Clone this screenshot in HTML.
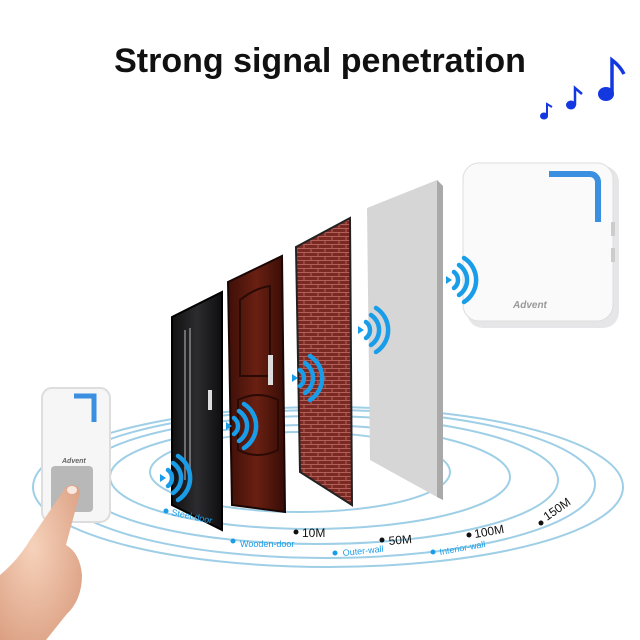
<!DOCTYPE html>
<html><head><meta charset="utf-8"><style>
html,body{margin:0;padding:0;background:#fff;width:640px;height:640px;overflow:hidden}
</style></head><body>
<svg width="640" height="640" viewBox="0 0 640 640" xmlns="http://www.w3.org/2000/svg" font-family="Liberation Sans, sans-serif">
<defs>
<pattern id="brick" width="14" height="8" patternUnits="userSpaceOnUse">
<rect width="14" height="8" fill="#7a2a22"/>
<path d="M0 0.5H14M0 4.5H14M3 0.5V4.5M10 4.5V8" stroke="#b4605a" stroke-width="1"/>
</pattern>
<linearGradient id="wood" x1="0" x2="1"><stop offset="0" stop-color="#3e0f08"/><stop offset="0.5" stop-color="#6a2012"/><stop offset="1" stop-color="#360c06"/></linearGradient>
<linearGradient id="steel" x1="0" x2="1"><stop offset="0" stop-color="#111"/><stop offset="0.5" stop-color="#2c2c30"/><stop offset="1" stop-color="#0e0e10"/></linearGradient>
<radialGradient id="skin" cx="0.4" cy="0.4" r="0.7"><stop offset="0" stop-color="#f6d2bb"/><stop offset="1" stop-color="#dca184"/></radialGradient>
<g id="wave" fill="none" stroke="#1a9de8" stroke-width="4.5" stroke-linecap="round">
<path d="M0 -4 L6 0 L0 4Z" fill="#1a9de8" stroke="none"/>
<path d="M8 -8 A10 10 0 0 1 8 8"/>
<path d="M13 -15 A18 18 0 0 1 13 15"/>
<path d="M18 -22 A26 26 0 0 1 18 22"/>
</g>
</defs>
<text x="320" y="72" text-anchor="middle" font-size="34" font-weight="bold" fill="#111">Strong signal penetration</text>
<!-- notes -->
<g fill="#1438e0">
<ellipse cx="544" cy="116" rx="4" ry="3.5"/><path d="M547 116V104l5 3" stroke="#1438e0" stroke-width="2" fill="none"/>
<ellipse cx="571" cy="105" rx="5" ry="4.5"/><path d="M575 105V88l7 6" stroke="#1438e0" stroke-width="2.5" fill="none"/>
<ellipse cx="606" cy="94" rx="8" ry="7"/><path d="M612 94V60q8 6 12 14" stroke="#1438e0" stroke-width="3.5" fill="none"/>
</g>
<!-- ellipses -->
<g fill="none" stroke="#9fcfe6" stroke-width="2">
<ellipse cx="300" cy="472" rx="150" ry="40"/>
<ellipse cx="310" cy="477" rx="200" ry="52"/>
<ellipse cx="318" cy="480" rx="240" ry="64"/>
<ellipse cx="325" cy="484" rx="270" ry="74"/>
<ellipse cx="328" cy="487" rx="295" ry="80"/>
</g>
<!-- panels -->
<polygon points="367,208 437,180 443,186 443,500 437,497 370,460" fill="#d6d6d6"/>
<polygon points="437,180 443,186 443,500 437,497" fill="#a9a9a9"/>
<polygon points="296,247 350,218 352,505 300,472" fill="url(#brick)" stroke="#222" stroke-width="2"/>
<polygon points="228,282 282,256 285,512 232,505" fill="url(#wood)" stroke="#1a0705" stroke-width="2"/>
<path d="M240 300 q15 -12 30 -14 v90 h-30z M238 400 q20 -10 40 0 v50 q-20 10 -40 0z" fill="none" stroke="#2a0a05" stroke-width="2"/>
<rect x="268" y="355" width="5" height="30" fill="#ddd"/>
<polygon points="172,317 222,292 222,530 172,505" fill="url(#steel)" stroke="#000" stroke-width="2"/>
<path d="M185 330V480M190 328V482" stroke="#888" stroke-width="1.5"/>
<rect x="208" y="390" width="4" height="20" fill="#ddd"/>
<!-- receiver -->
<rect x="467" y="166" width="152" height="162" rx="16" fill="#e6e6e8"/>
<rect x="463" y="163" width="150" height="158" rx="16" fill="#fafafa" stroke="#ddd"/>
<path d="M549 174H590a8 8 0 0 1 8 8V222" fill="none" stroke="#3a8fe0" stroke-width="6"/>
<rect x="611" y="222" width="4" height="14" fill="#ccc"/><rect x="611" y="248" width="4" height="14" fill="#ccc"/>
<text x="513" y="308" font-size="10" font-weight="bold" fill="#999" font-style="italic">Advent</text>
<!-- waves -->
<use href="#wave" x="160" y="478"/>
<use href="#wave" x="226" y="426"/>
<use href="#wave" x="292" y="378"/>
<use href="#wave" x="358" y="330"/>
<use href="#wave" x="446" y="280"/>
<!-- transmitter -->
<rect x="42" y="388" width="68" height="134" rx="10" fill="#f6f6f6" stroke="#ddd" stroke-width="2"/>
<path d="M74 396H94V422" fill="none" stroke="#3a8fe0" stroke-width="5"/>
<text x="62" y="463" font-size="7" font-weight="bold" fill="#666" font-style="italic">Advent</text>
<rect x="51" y="466" width="42" height="46" rx="4" fill="#b8b8b8"/>
<!-- finger -->
<path d="M66 487 q12 -6 14 6 l-14 52 q14 8 16 30 q0 25 -16 40 l-20 25 H0 V575 q18 -15 30 -35 z" fill="url(#skin)"/>
<ellipse cx="72" cy="490" rx="5" ry="4" fill="#f8e8e0"/>
<!-- labels -->
<g font-size="9" fill="#1a9de8">
<circle cx="166" cy="511" r="2.5"/><text x="171" y="515" transform="rotate(12 171 515)">Steel-door</text>
<circle cx="233" cy="541" r="2.5"/><text x="240" y="547">Wooden-door</text>
<circle cx="335" cy="553" r="2.5"/><text x="343" y="556" transform="rotate(-6 343 556)">Outer-wall</text>
<circle cx="433" cy="552" r="2.5"/><text x="440" y="555" transform="rotate(-10 440 555)">Interior-wall</text>
</g>
<g font-size="12" fill="#111">
<circle cx="296" cy="532" r="2.5"/><text x="302" y="537">10M</text>
<circle cx="382" cy="540" r="2.5"/><text x="389" y="545" transform="rotate(-5 389 545)">50M</text>
<circle cx="469" cy="535" r="2.5"/><text x="475" y="538" transform="rotate(-10 475 538)">100M</text>
<circle cx="541" cy="523" r="2.5"/><text x="547" y="521" transform="rotate(-35 547 521)">150M</text>
</g>
</svg>
</body></html>
